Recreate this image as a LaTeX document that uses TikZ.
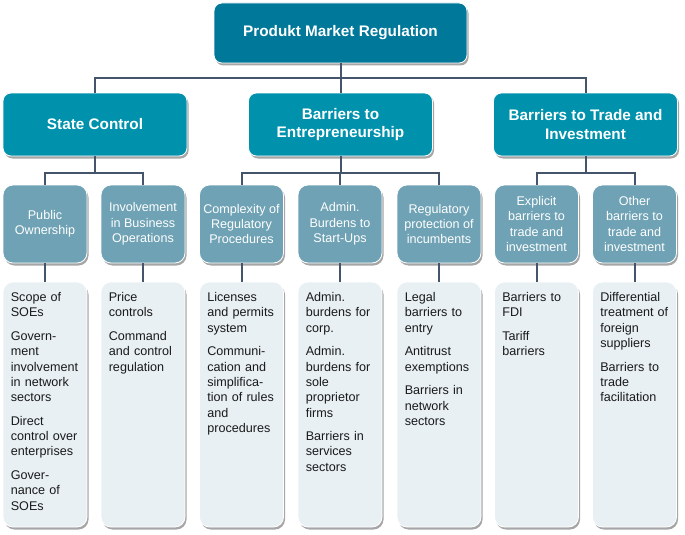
\documentclass[tikz,border=0pt]{standalone}
\usepackage{fontspec}
\setmainfont{Liberation Sans}
\usetikzlibrary{shadows}
\definecolor{topc}{HTML}{00789A}
\definecolor{midc}{HTML}{0092AD}
\definecolor{lowc}{HTML}{6EA2B4}
\definecolor{botc}{HTML}{E8F0F4}
\definecolor{linec}{HTML}{44546A}
\definecolor{txtc}{HTML}{1A1A1A}
\begin{document}
\begin{tikzpicture}[x=1pt,y=-1pt,
 box/.style={draw=white, line width=0.8pt, rounded corners=8pt, inner sep=0pt,
   drop shadow={shadow xshift=1.5pt, shadow yshift=-2.5pt, fill=black, opacity=0.35}},
 topbox/.style={box, fill=topc, minimum width=253pt, minimum height=60pt, text=white,
   font=\fontsize{15.3}{18.7}\selectfont\bfseries, align=center},
 midbox/.style={box, fill=midc, minimum width=184pt, minimum height=63pt, text=white,
   font=\fontsize{15.3}{18.7}\selectfont\bfseries, align=center},
 lowbox/.style={box, rounded corners=10pt, fill=lowc, minimum width=84pt, minimum height=78pt,
   text=white, font=\fontsize{12.6}{15.3}\selectfont, align=center},
 botbox/.style={box, rounded corners=10pt, fill=botc, minimum width=84pt, minimum height=245pt},
 bottext/.style={anchor=base west, text width=76pt, align=left, inner sep=0pt,
   font=\fontsize{12.6}{15.3}\selectfont, text=txtc, xshift=8pt, yshift=-20pt},
 conn/.style={draw=linec, line width=2pt}]
\useasboundingbox (0,0) rectangle (685,535);

% top level
\node[topbox] (pmr) at (340.5,33) {Produkt Market Regulation};
% level 2
\node[midbox] (sc) at (95,124.5) {State Control};
\node[midbox] (be) at (340.5,124.5) {Barriers to\\Entrepreneurship};
\node[midbox] (bt) at (585.5,124.5) {Barriers to Trade and\\Investment};
% level 3
\node[lowbox] (l1) at (45,224) {Public\\Ownership};
\node[lowbox] (l2) at (143,224) {Involvement\\in Business\\Operations};
\node[lowbox] (l3) at (241.5,224) {Complexity of\\Regulatory\\Procedures};
\node[lowbox] (l4) at (340,224) {Admin.\\Burdens to\\Start-Ups};
\node[lowbox] (l5) at (439,224) {Regulatory\\protection of\\incumbents};
\node[lowbox] (l6) at (536.5,224) {Explicit\\barriers to\\trade and\\investment};
\node[lowbox] (l7) at (634.5,224) {Other\\barriers to\\trade and\\investment};
% bottom boxes
\node[botbox] (b1) at (45,404.5) {};
\node[botbox] (b2) at (143,404.5) {};
\node[botbox] (b3) at (241.5,404.5) {};
\node[botbox] (b4) at (340,404.5) {};
\node[botbox] (b5) at (439,404.5) {};
\node[botbox] (b6) at (536.5,404.5) {};
\node[botbox] (b7) at (634.5,404.5) {};
% bottom texts
\node[bottext] (t1) at (b1.north west) {Scope of\\SOEs\\[8.3pt]Govern-\\ment\\involvement\\in network\\sectors\\[8.3pt]Direct\\control over\\enterprises\\[8.3pt]Gover-\\nance of\\SOEs};
\node[bottext] (t2) at (b2.north west) {Price\\controls\\[8.3pt]Command\\and control\\regulation};
\node[bottext] (t3) at (b3.north west) {Licenses\\and permits\\system\\[8.3pt]Communi-\\cation and\\simplifica-\\tion of rules\\and\\procedures};
\node[bottext] (t4) at (b4.north west) {Admin.\\burdens for\\corp.\\[8.3pt]Admin.\\burdens for\\sole\\proprietor\\firms\\[8.3pt]Barriers in\\services\\sectors};
\node[bottext] (t5) at (b5.north west) {Legal\\barriers to\\entry\\[8.3pt]Antitrust\\exemptions\\[8.3pt]Barriers in\\network\\sectors};
\node[bottext] (t6) at (b6.north west) {Barriers to\\FDI\\[8.3pt]Tariff\\barriers};
\node[bottext] (t7) at (b7.north west) {Differential\\treatment of\\foreign\\suppliers\\[8.3pt]Barriers to\\trade\\facilitation};

% connectors
\draw[conn] (pmr.south) -- ++(0,15) coordinate (h0) -| (sc.north);
\draw[conn] (h0) -| (bt.north);
\draw[conn] (h0) -- (be.north);
\draw[conn] (sc.south) -- ++(0,17) coordinate (h1) -| (l1.north);
\draw[conn] (h1) -| (l2.north);
\draw[conn] (be.south) -- ++(0,17) coordinate (h2) -| (l3.north);
\draw[conn] (h2) -| (l5.north);
\draw[conn] (h2) -| (l4.north);
\draw[conn] (bt.south) -- ++(0,17) coordinate (h3) -| (l6.north);
\draw[conn] (h3) -| (l7.north);
\draw[conn] (l1.south) -- (b1.north);
\draw[conn] (l2.south) -- (b2.north);
\draw[conn] (l3.south) -- (b3.north);
\draw[conn] (l4.south) -- (b4.north);
\draw[conn] (l5.south) -- (b5.north);
\draw[conn] (l6.south) -- (b6.north);
\draw[conn] (l7.south) -- (b7.north);
\end{tikzpicture}
\end{document}
